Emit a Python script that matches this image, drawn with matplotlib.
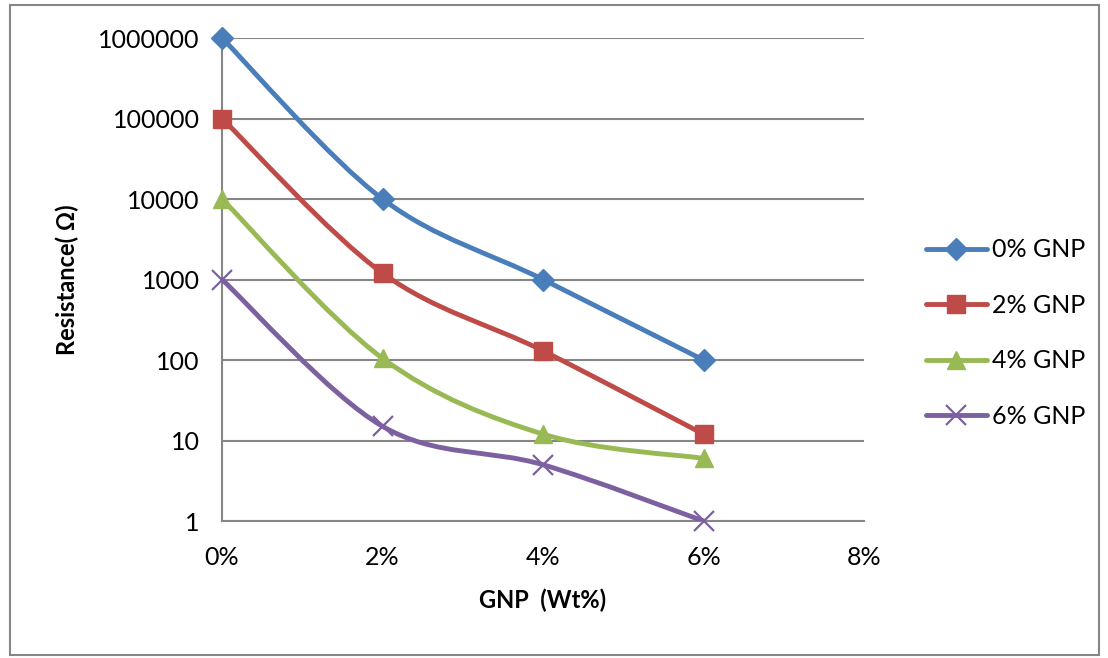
import numpy as np
import matplotlib
matplotlib.use("Agg")
import matplotlib.pyplot as plt
from matplotlib.path import Path
from matplotlib.patches import PathPatch, Rectangle
from matplotlib.lines import Line2D
from matplotlib.ticker import FixedLocator, FuncFormatter, NullLocator

plt.rcParams['font.family'] = ['Lato', 'DejaVu Sans']

# data
gnp_wt = [0, 2, 4, 6]
series_names = ['0% GNP', '2% GNP', '4% GNP', '6% GNP']
res_0 = [1000000, 10000, 1000, 100]
res_2 = [100000, 1200, 130, 12]
res_4 = [10000, 105, 12, 6]
res_6 = [1000, 15, 5, 1]
y_ticks = [1, 10, 100, 1000, 10000, 100000, 1000000]
x_ticks = [0, 2, 4, 6, 8]

colors = ['#4A7EBB', '#BE4B48', '#98B954', '#7D60A0']
markers = ['D', 's', '^', 'x']
msizes = [11, 13, 13, 14]


def smooth_path(xs, ys):
    # Excel-like smoothed line: cubic bezier in (x, log y) space
    lx = np.array(xs, float)
    ly = np.log10(np.array(ys, float))
    n = len(lx)
    verts = [(lx[0], ly[0])]
    codes = [Path.MOVETO]
    for i in range(n - 1):
        p0 = (lx[max(i - 1, 0)], ly[max(i - 1, 0)])
        p1 = (lx[i], ly[i])
        p2 = (lx[i + 1], ly[i + 1])
        p3 = (lx[min(i + 2, n - 1)], ly[min(i + 2, n - 1)])
        c1 = (p1[0] + (p2[0] - p0[0]) / 6, p1[1] + (p2[1] - p0[1]) / 6)
        c2 = (p2[0] - (p3[0] - p1[0]) / 6, p2[1] - (p3[1] - p1[1]) / 6)
        verts += [c1, c2, p2]
        codes += [Path.CURVE4] * 3
    verts = [(vx, 10 ** vy) for vx, vy in verts]
    return Path(verts, codes)


fig = plt.figure(figsize=(11.08, 6.58), dpi=100)
ax = fig.add_axes([0.2004, 0.2082, 0.5794, 0.734])

handles = []
for name, vals, c, m, ms in zip(series_names, [res_0, res_2, res_4, res_6], colors, markers, msizes):
    patch = PathPatch(smooth_path(gnp_wt, vals), facecolor='none', edgecolor=c,
                      lw=3.5, capstyle='round', joinstyle='round', zorder=3)
    ax.add_patch(patch)
    mew = 1.6 if m == 'x' else 1
    ax.plot(gnp_wt, vals, linestyle='none', marker=m, ms=ms, color=c, mew=mew, zorder=4, clip_on=False)
    handles.append(Line2D([], [], color=c, lw=3.5, marker=m, ms=ms, mew=mew, solid_capstyle='round', label=name))

ax.set_yscale('log')
ax.set_ylim(1, 1000000)
ax.set_xlim(0, 8)
ax.yaxis.set_major_locator(FixedLocator(y_ticks))
ax.yaxis.set_minor_locator(NullLocator())
ax.yaxis.set_major_formatter(FuncFormatter(lambda v, p: '%d' % round(v)))
ax.xaxis.set_major_locator(FixedLocator(x_ticks))
ax.xaxis.set_major_formatter(FuncFormatter(lambda v, p: '%d%%' % round(v)))

ax.grid(axis='y', color='#868686', lw=1.5)
ax.set_axisbelow(True)
for s in ['top', 'right']:
    ax.spines[s].set_visible(False)
for s in ['left', 'bottom']:
    ax.spines[s].set_color('#868686')
    ax.spines[s].set_linewidth(1.5)
ax.tick_params(axis='both', length=0, labelsize=18, colors='black')
ax.tick_params(axis='y', pad=16)
ax.tick_params(axis='x', pad=18)

ax.set_ylabel('Resistance( \u03a9)', fontsize=17, fontweight='bold', labelpad=14)
ax.set_xlabel('GNP  (Wt%)', fontsize=17, fontweight='bold', labelpad=14)

fig.legend(handles=handles, loc='upper left', bbox_to_anchor=(0.815, 0.672), frameon=False,
           fontsize=18, handlelength=2.45, handletextpad=0.2, labelspacing=1.3, numpoints=1)

# outer border like the Excel chart area
fig.patches.append(Rectangle((0.009, 0.005), 0.983, 0.988, transform=fig.transFigure,
                             fill=False, edgecolor='#868686', lw=1.5))

fig.savefig('out.png', dpi=100)
